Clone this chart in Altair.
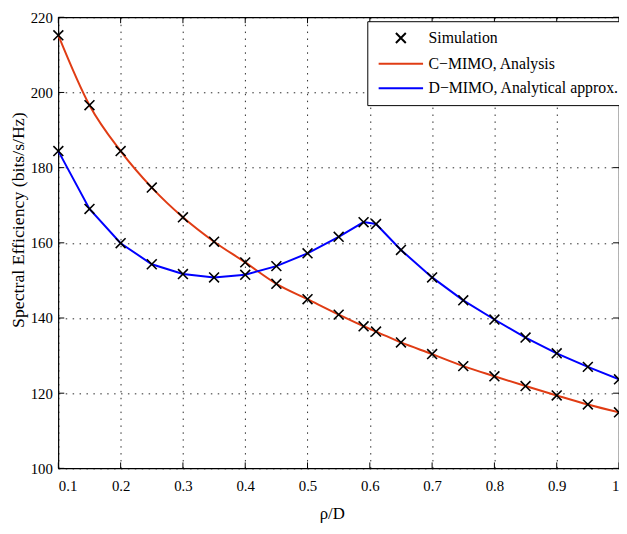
import altair as alt
import pandas as pd

# ---- data ----
rho = [0.1, 0.15, 0.2, 0.25, 0.3, 0.35, 0.4, 0.45, 0.5, 0.55, 0.59, 0.61,
       0.65, 0.7, 0.75, 0.8, 0.85, 0.9, 0.95, 1.0]
c_mimo = [215.2, 196.6, 184.4, 174.7, 166.8, 160.3, 154.8, 149.1, 145.0, 140.9,
          137.8, 136.4, 133.5, 130.4, 127.2, 124.5, 121.9, 119.4, 117.0, 114.9]
d_mimo = [184.4, 169.0, 159.9, 154.3, 151.7, 150.8, 151.5, 153.8, 157.2, 161.6,
          165.5, 165.0, 158.1, 150.8, 144.7, 139.6, 134.8, 130.6, 127.0, 123.7]
series_names = ["Simulation", "C\u2212MIMO, Analysis", "D\u2212MIMO, Analytical approx."]
series_colors = ["#000000", "#E03C14", "#0000FF"]
x_ticks = [0.1, 0.2, 0.3, 0.4, 0.5, 0.6, 0.7, 0.8, 0.9, 1.0]
y_ticks = [100, 120, 140, 160, 180, 200, 220]

W, H = 568, 457
TOP = 6
FONT = "Liberation Serif"
n = len(rho)

lines_df = pd.DataFrame({
    "rho": rho + rho,
    "se": c_mimo + d_mimo,
    "series": [series_names[1]] * n + [series_names[2]] * n,
})
sim_df = pd.DataFrame({"rho": rho + rho, "se": c_mimo + d_mimo,
                       "series": [series_names[0]] * (2 * n)})
xt_df = pd.DataFrame({"rho": x_ticks})
yt_df = pd.DataFrame({"se": y_ticks})

x_scale = alt.Scale(domain=[0.1, 1.0], nice=False, zero=False)
y_scale = alt.Scale(domain=[100, 220], nice=False, zero=False)
X_PATH = "M-1,-1L1,1M-1,1L1,-1"
LINE_PATH = "M-4.5,0L4.5,0"
color_scale = alt.Scale(domain=series_names, range=series_colors)
shape_scale = alt.Scale(domain=series_names, range=[X_PATH, LINE_PATH, LINE_PATH])

x_axis = alt.Axis(values=x_ticks, format="~g", title="\u03c1/D",
                  labelFont=FONT, labelFontSize=15, labelColor="black", labelPadding=10,
                  titleFont=FONT, titleFontSize=17, titleFontWeight="normal", titleColor="black",
                  titleX=277, titleY=46, titleBaseline="middle", titleAlign="center",
                  ticks=False, domain=False, grid=True, gridDash=[1.5, 5.5],
                  gridColor="black", gridOpacity=0.85, gridWidth=1)
y_axis = alt.Axis(values=y_ticks, title="Spectral Efficiency (bits/s/Hz)",
                  labelFont=FONT, labelFontSize=15, labelColor="black", labelPadding=6,
                  titleFont=FONT, titleFontSize=18, titleFontWeight="normal", titleColor="black",
                  titleX=-40, titleY=205, titleAngle=270, titleBaseline="middle", titleAlign="center",
                  ticks=False, domain=False, grid=True, gridDash=[1.5, 5.5],
                  gridColor="black", gridOpacity=0.85, gridWidth=1)

def xenc():
    return alt.X("rho:Q", scale=x_scale, axis=x_axis)

def yenc():
    return alt.Y("se:Q", scale=y_scale, axis=y_axis)

legend = alt.Legend(title=None, orient="none", legendX=313, legendY=4,
                    symbolSize=100, symbolStrokeWidth=2, symbolOffset=17,
                    labelFont=FONT, labelFontSize=16, labelColor="black", labelOffset=20,
                    labelLimit=400, padding=9, rowPadding=9,
                    strokeColor="black", fillColor="white", cornerRadius=0)

red_line = alt.Chart(lines_df).transform_filter(
    alt.datum.series == series_names[1]
).mark_line(strokeWidth=2, interpolate="monotone").encode(
    x=xenc(), y=yenc(),
    color=alt.Color("series:N", scale=color_scale, legend=legend),
)
blue_line = alt.Chart(lines_df).transform_filter(
    alt.datum.series == series_names[2]
).mark_line(strokeWidth=2).encode(
    x=xenc(), y=yenc(),
    color=alt.Color("series:N", scale=color_scale, legend=legend),
)
crosses = alt.Chart(sim_df).mark_point(filled=False, size=100, strokeWidth=1.6, opacity=1).encode(
    x=xenc(), y=yenc(),
    color=alt.Color("series:N", scale=color_scale, legend=legend),
    shape=alt.Shape("series:N", scale=shape_scale, legend=legend),
)

tick_style = dict(color="black", strokeWidth=1)
t_bottom = alt.Chart(xt_df).mark_rule(**tick_style).encode(
    x=xenc(), y=alt.value(H), y2=alt.value(H - 6))
t_top = alt.Chart(xt_df).mark_rule(**tick_style).encode(
    x=xenc(), y=alt.value(0), y2=alt.value(6))
t_left = alt.Chart(yt_df).mark_rule(**tick_style).encode(
    y=yenc(), x=alt.value(0), x2=alt.value(6))
t_right = alt.Chart(yt_df).mark_rule(**tick_style).encode(
    y=yenc(), x=alt.value(W), x2=alt.value(W - 6))

chart = alt.layer(
    t_bottom, t_top, t_left, t_right, red_line, blue_line, crosses
).properties(
    width=W, height=H,
    autosize=alt.AutoSizeParams(type="none"),
    padding={"left": 51, "top": TOP, "right": 0, "bottom": 56},
    background="white",
).configure_view(
    stroke="black", strokeWidth=1.2
)

chart.save("out.html", embed_options={"renderer": "svg", "actions": False})
